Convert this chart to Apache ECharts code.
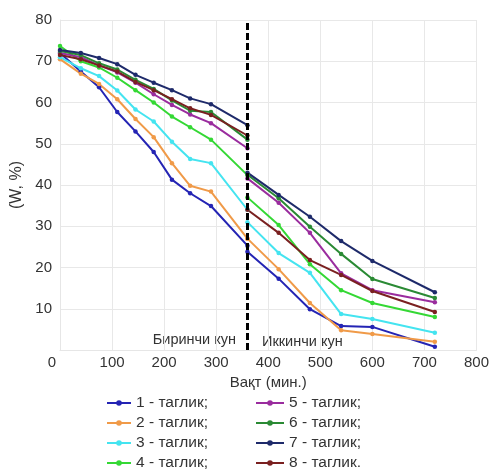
<!DOCTYPE html>
<html>
<head>
<meta charset="utf-8">
<script src="https://cdn.jsdelivr.net/npm/echarts@6/dist/echarts.min.js"></script>
<style>html,body{margin:0;padding:0;background:#fff}#c{width:492px;height:470px}</style>
</head>
<body>
<div id="c"></div>
<script>
const timesDay1 = [0, 40, 75, 110, 145, 180, 215, 250, 290, 360];
const timesDay2 = [360, 420, 480, 540, 600, 720];
const seriesNames = ['1 - таглик;', '2 - таглик;', '3 - таглик;', '4 - таглик;', '5 - таглик;', '6 - таглик;', '7 - таглик;', '8 - таглик.'];
const s1Day1 = [72, 67.5, 63.7, 57.7, 53, 48, 41.3, 38, 34.9, 25.3];
const s1Day2 = [23.8, 17.3, 9.9, 5.8, 5.6, 0.8];
const s2Day1 = [70.5, 67, 64.5, 60.8, 56, 51.6, 45.3, 39.8, 38.4, 27];
const s2Day2 = [27, 19.6, 11.4, 4.8, 3.9, 2];
const s3Day1 = [71, 68.3, 66.4, 62.9, 58.3, 55.4, 50.5, 46.3, 45.3, 34];
const s3Day2 = [31, 23.5, 18.7, 8.7, 7.5, 4.2];
const s4Day1 = [73.7, 70, 68.5, 66, 63, 60, 56.6, 54, 51, 42.4];
const s4Day2 = [37, 30.3, 20.8, 14.5, 11.4, 8];
const s5Day1 = [72, 71, 69, 67.3, 64.8, 62, 59.4, 57.1, 55, 48.9];
const s5Day2 = [41.6, 35.7, 28.4, 18.6, 14.5, 11.6];
const s6Day1 = [72.5, 71.5, 69.5, 68, 65.5, 63.3, 60.5, 58, 57.7, 51];
const s6Day2 = [42.5, 36.8, 29.9, 23.3, 17.2, 12.6];
const s7Day1 = [72.7, 72, 70.8, 69.3, 66.7, 64.8, 63, 61, 59.6, 54.5];
const s7Day2 = [43, 37.6, 32.3, 26.4, 21.6, 14];
const s8Day1 = [71.5, 70.5, 69, 67.5, 65, 63, 60.8, 58.6, 57, 52];
const s8Day2 = [34, 28.4, 21.8, 18.2, 14.3, 9.2];
const xTicks = [0, 100, 200, 300, 400, 500, 600, 700, 800];
const yTicks = [0, 10, 20, 30, 40, 50, 60, 70, 80];
const dayLabels = ['Биринчи кун', 'Иккинчи кун'];
const dayBoundary = 360;

const day1 = [s1Day1, s2Day1, s3Day1, s4Day1, s5Day1, s6Day1, s7Day1, s8Day1];
const day2 = [s1Day2, s2Day2, s3Day2, s4Day2, s5Day2, s6Day2, s7Day2, s8Day2];
const colors = ['#2424b4', '#f09a48', '#44e4f0', '#34d834', '#9a2c9e', '#2a8a34', '#1e2a6a', '#7a2020'];

const font = 'Liberation Sans, Arial, sans-serif';
const series = seriesNames.map((name, i) => {
  const data = timesDay1.map((t, j) => [t, day1[i][j]]);
  data.push([dayBoundary, null]);
  timesDay2.forEach((t, j) => data.push([t, day2[i][j]]));
  return {
    name, type: 'line', data, connectNulls: false,
    symbol: 'circle', symbolSize: 4.5,
    lineStyle: { width: 2, color: colors[i] },
    itemStyle: { color: colors[i] },
    z: 2
  };
});
series.push({
  type: 'line', data: [], silent: true,
  markLine: {
    silent: true, symbol: 'none', label: { show: false },
    lineStyle: { color: '#000', width: 3, type: [7, 3] },
    data: [{ xAxis: dayBoundary }]
  },
  z: 5
});

const legendText = { fontSize: 15.5, color: '#333', fontFamily: font, height: 16, lineHeight: 16 };
const chart = echarts.init(document.getElementById('c'));
chart.setOption({
  animation: false,
  backgroundColor: '#fff',
  textStyle: { fontFamily: font },
  grid: { left: 60, right: 14, top: 20, bottom: 120 },
  xAxis: {
    type: 'value', min: xTicks[0], max: xTicks[xTicks.length - 1], interval: 100,
    name: 'Вақт (мин.)', nameLocation: 'middle', nameGap: 25,
    nameTextStyle: { fontSize: 15, color: '#333', fontFamily: font },
    axisLine: { lineStyle: { color: '#e6e6e6' } },
    axisTick: { show: false },
    splitLine: { lineStyle: { color: '#e8e8e8' } },
    axisLabel: {
      fontSize: 15, color: '#333', margin: 5, fontFamily: font,
      formatter: v => v === 0 ? '{z|0}' : String(v),
      rich: { z: { fontSize: 15, color: '#333', padding: [0, 16, 0, 0], fontFamily: font } }
    }
  },
  yAxis: {
    type: 'value', min: yTicks[0], max: yTicks[yTicks.length - 1], interval: 10,
    name: '(W, %)', nameLocation: 'middle', nameGap: 32, nameRotate: 90,
    nameTextStyle: { fontSize: 16, color: '#333', fontFamily: font },
    axisLine: { show: true, lineStyle: { color: '#e6e6e6' } },
    axisTick: { show: false },
    splitLine: { lineStyle: { color: '#e8e8e8' } },
    axisLabel: { fontSize: 15, color: '#333', margin: 8, showMinLabel: false, fontFamily: font }
  },
  legend: [
    {
      data: seriesNames.slice(0, 4), orient: 'vertical', left: 106, top: 395, height: 100,
      padding: 0, itemWidth: 24, itemHeight: 7, itemGap: 4,
      textStyle: legendText
    },
    {
      data: seriesNames.slice(4), orient: 'vertical', left: 255, top: 395, height: 100,
      padding: 0, itemWidth: 28, itemHeight: 7, itemGap: 4,
      textStyle: legendText
    }
  ],
  graphic: [
    { type: 'text', x: 236, y: 340, style: { text: dayLabels[0], fontSize: 14.5, fill: '#333', fontFamily: font, align: 'right', verticalAlign: 'middle' } },
    { type: 'text', x: 262, y: 342, style: { text: dayLabels[1], fontSize: 14.5, fill: '#333', fontFamily: font, align: 'left', verticalAlign: 'middle' } }
  ],
  series
});
</script>
</body>
</html>
